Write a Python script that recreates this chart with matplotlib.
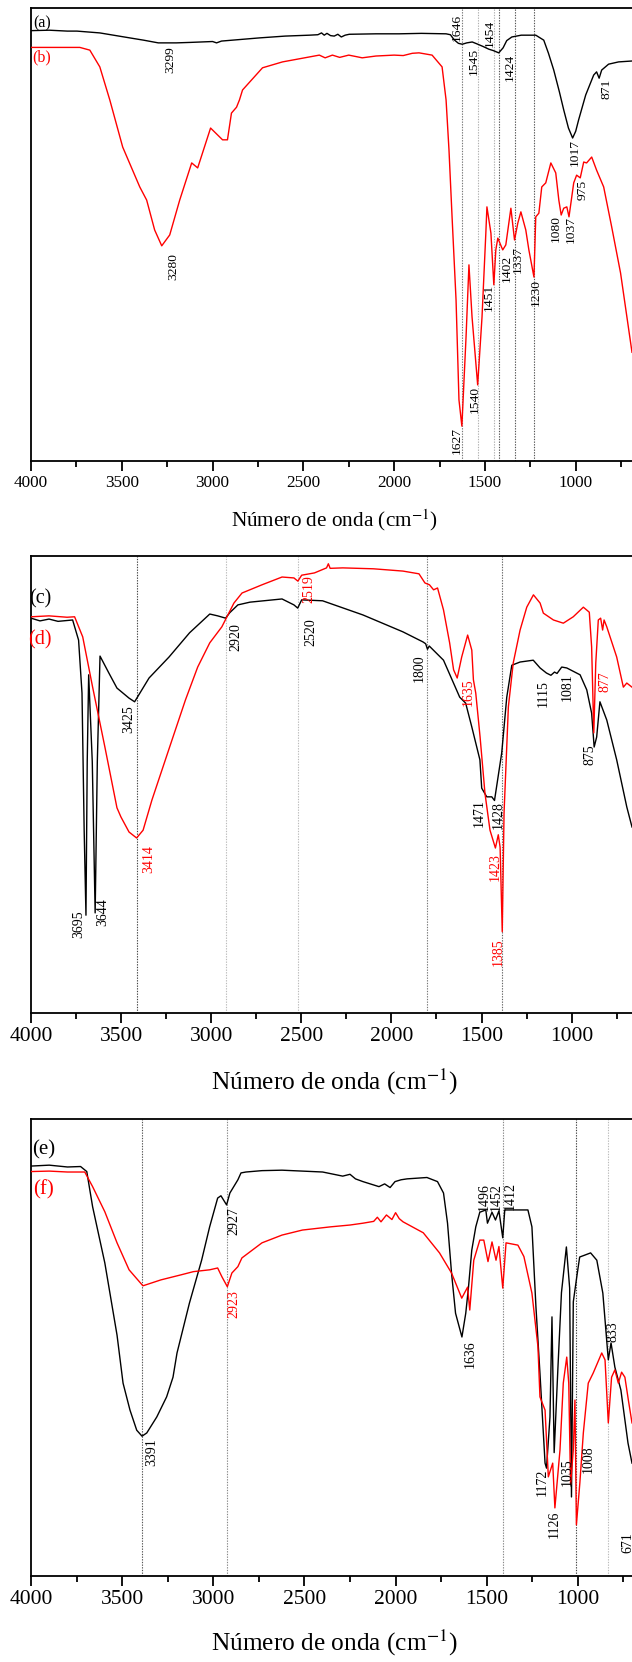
import matplotlib.pyplot as plt
from matplotlib.ticker import MultipleLocator

plt.rcParams['font.family'] = ['Liberation Serif', 'DejaVu Serif']
plt.rcParams['mathtext.fontset'] = 'stix'

RED = '#ff0000'
BLK = '#000000'

# ---------- spectra (a) / (b) ----------
wn_a = [4000, 3900, 3800, 3747, 3621, 3456, 3380, 3299, 3200, 3126, 3000, 2978, 2951, 2742, 2600,
        2467, 2420, 2400, 2385, 2370, 2350, 2330, 2310, 2291, 2270, 2247, 2100, 1973, 1850, 1714,
        1690, 1670, 1646, 1625, 1600, 1570, 1545, 1510, 1478, 1454, 1424, 1400, 1380, 1352, 1300,
        1220, 1176, 1150, 1121, 1090, 1066, 1040, 1017, 1000, 984, 945, 901, 885, 871, 857,
        819, 764, 690]
t_a = [95.0, 95.1, 94.9, 94.9, 94.5, 93.4, 92.9, 92.3, 92.3, 92.4, 92.6, 92.3, 92.7, 93.4, 93.8,
       94.0, 94.1, 94.5, 94.0, 94.4, 93.9, 93.8, 94.2, 93.6, 94.0, 94.2, 94.3, 94.3, 94.4, 94.3,
       94.1, 93.0, 92.2, 92.0, 92.3, 92.5, 92.1, 91.5, 90.9, 90.6, 90.1, 91.2, 92.8, 93.6, 94.0,
       94.0, 92.9, 90.0, 86.3, 81.5, 77.5, 73.5, 71.3, 72.8, 75.3, 80.8, 85.2, 85.9, 84.5, 86.3,
       87.6, 88.1, 88.3]

wn_b = [4000, 3731, 3676, 3621, 3566, 3495, 3401, 3363, 3319, 3280, 3236, 3181, 3115, 3082, 3011,
        2945, 2918, 2896, 2868, 2852, 2835, 2725, 2615, 2412, 2380, 2340, 2300, 2250, 2200, 2176,
        2100, 2000, 1950, 1900, 1863, 1791, 1736, 1714, 1698, 1681, 1659, 1643, 1627, 1604, 1588,
        1571, 1540, 1516, 1495, 1489, 1467, 1451, 1440, 1429, 1402, 1385, 1357, 1337, 1319, 1302,
        1275, 1258, 1230, 1220, 1203, 1187, 1165, 1137, 1110, 1093, 1080, 1066, 1049, 1037, 1011,
        995, 975, 956, 940, 912, 885, 846, 802, 753, 690]
t_b = [91.3, 91.3, 90.7, 87.0, 79.7, 69.3, 60.5, 57.6, 51.0, 47.5, 49.9, 57.6, 65.8, 64.7, 73.5,
       70.9, 70.9, 76.8, 78.1, 79.7, 81.9, 86.8, 88.1, 89.6, 89.0, 89.6, 89.1, 89.6, 89.2, 89.0,
       89.4, 89.6, 89.5, 90.0, 90.1, 89.6, 87.0, 79.7, 68.7, 53.9, 35.5, 13.5, 7.7, 27.4, 43.3,
       31.8, 16.8, 31.8, 50.3, 56.1, 50.3, 38.9, 46.6, 49.2, 46.6, 47.7, 55.8, 48.8, 52.5, 55.0,
       51.0, 46.6, 40.6, 53.9, 54.7, 60.5, 61.4, 65.8, 63.6, 57.6, 54.3, 55.8, 56.1, 53.9, 61.4,
       63.1, 62.5, 66.0, 65.8, 67.1, 64.2, 60.5, 51.7, 41.5, 24.0]

# ---------- spectra (c) / (d) ----------
wn_c = [4000, 3950, 3900, 3850, 3769, 3736, 3717, 3705, 3695, 3688, 3680, 3660, 3644, 3632, 3617,
        3568, 3523, 3456, 3425, 3345, 3234, 3120, 3008, 2964, 2920, 2897, 2852, 2785, 2607, 2541,
        2520, 2498, 2382, 2158, 1936, 1825, 1810, 1800, 1790, 1711, 1621, 1588, 1554, 1509, 1499,
        1471, 1443, 1428, 1388, 1360, 1332, 1286, 1213, 1175, 1140, 1115, 1095, 1081, 1055, 1027,
        953, 916, 889, 875, 861, 843, 805, 750, 694, 665]
t_c = [86.4, 85.8, 86.2, 85.7, 86.0, 81.6, 70.0, 40.0, 21.4, 55.0, 74.0, 55.0, 21.9, 55.0, 78.1,
       74.4, 71.1, 68.9, 68.1, 73.3, 77.9, 83.2, 87.3, 86.9, 86.4, 87.6, 89.3, 89.9, 90.6, 89.3,
       88.6, 90.4, 90.2, 87.1, 83.4, 81.2, 80.8, 79.6, 80.3, 77.2, 69.1, 67.8, 62.6, 55.4, 49.2,
       47.3, 47.3, 46.5, 56.9, 69.1, 76.1, 76.8, 77.2, 75.5, 74.4, 73.9, 74.6, 74.3, 75.7, 75.5,
       74.0, 70.7, 65.6, 58.2, 60.4, 68.1, 64.1, 55.4, 45.1, 40.7]

wn_d = [4000, 3900, 3800, 3758, 3713, 3658, 3590, 3523, 3501, 3456, 3414, 3378, 3329, 3279, 3212,
        3143, 3075, 3008, 2941, 2874, 2829, 2718, 2607, 2541, 2519, 2498, 2427, 2360, 2350, 2340,
        2270, 2100, 1936, 1847, 1814, 1789, 1766, 1744, 1711, 1677, 1655, 1635, 1610, 1577, 1554,
        1545, 1532, 1508, 1481, 1453, 1423, 1407, 1397, 1385, 1375, 1351, 1324, 1286, 1249, 1212,
        1175, 1157, 1101, 1046, 991, 935, 902, 889, 877, 866, 852, 839, 828, 820, 805,
        750, 713, 694, 665]
t_d = [86.7, 86.9, 86.6, 86.7, 82.3, 71.3, 58.2, 44.9, 42.9, 39.6, 38.3, 40.0, 46.6, 52.5, 60.4,
       68.5, 75.7, 81.0, 84.5, 89.7, 91.9, 93.7, 95.4, 95.2, 94.5, 95.8, 96.3, 97.4, 98.3, 97.3,
       97.4, 97.2, 96.7, 96.1, 94.1, 93.7, 92.6, 93.0, 88.2, 81.0, 75.1, 73.3, 77.9, 82.7, 79.4,
       72.9, 70.0, 60.4, 48.1, 40.0, 36.1, 39.0, 36.3, 17.8, 43.8, 67.0, 76.6, 83.8, 88.8, 91.5,
       89.7, 87.5, 86.0, 85.3, 86.7, 88.8, 87.7, 80.1, 61.3, 76.6, 86.0, 86.4, 83.8, 86.0, 84.5,
       77.9, 71.3, 72.2, 71.3]

# ---------- spectra (e) / (f) ----------
wn_e = [4000, 3900, 3800, 3728, 3694, 3662, 3595, 3528, 3495, 3457, 3420, 3391, 3365, 3310, 3256,
        3221, 3199, 3131, 3064, 3020, 2976, 2958, 2927, 2909, 2865, 2848, 2821, 2733, 2623, 2400,
        2290, 2250, 2220, 2179, 2091, 2060, 2030, 2003, 1970, 1937, 1828, 1770, 1737, 1715, 1693,
        1671, 1636, 1615, 1600, 1582, 1560, 1538, 1505, 1496, 1471, 1452, 1433, 1412, 1401, 1361,
        1274, 1252, 1230, 1208, 1180, 1172, 1153, 1142, 1130, 1110, 1090, 1063, 1045, 1035, 1025,
        1003, 990, 963, 930, 896, 863, 833, 818, 797, 764, 725, 703]
t_e = [89.7, 89.9, 89.5, 89.6, 88.5, 80.8, 68.5, 52.7, 42.2, 36.3, 31.9, 30.6, 31.3, 34.8, 39.2,
       43.5, 48.8, 59.7, 69.1, 76.4, 82.7, 83.2, 81.2, 83.8, 86.7, 88.2, 88.4, 88.7, 88.8, 88.4,
       87.5, 87.9, 86.9, 86.3, 85.2, 85.8, 85.0, 86.3, 86.7, 86.9, 87.2, 86.3, 83.8, 77.2, 66.3,
       57.5, 52.3, 57.5, 63.2, 71.3, 76.4, 79.6, 80.1, 77.2, 79.6, 77.9, 79.9, 74.0, 80.1, 80.1,
       80.1, 76.4, 58.9, 44.4, 24.7, 23.6, 34.8, 56.7, 27.0, 45.0, 62.0, 72.0, 63.0, 17.3, 60.0,
       66.3, 69.8, 70.2, 70.7, 69.1, 61.9, 47.3, 51.0, 45.7, 40.7, 29.1, 24.7]

wn_f = [4000, 3900, 3800, 3705, 3662, 3595, 3528, 3462, 3386, 3287, 3177, 3109, 3020, 2976, 2953,
        2923, 2898, 2865, 2843, 2733, 2623, 2511, 2357, 2250, 2179, 2120, 2100, 2080, 2050, 2020,
        2000, 1980, 1959, 1848, 1759, 1693, 1637, 1605, 1593, 1571, 1538, 1516, 1493, 1471, 1449,
        1433, 1412, 1394, 1329, 1296, 1252, 1219, 1208, 1180, 1162, 1138, 1126, 1098, 1080, 1061,
        1050, 1040, 1025, 1016, 1008, 989, 970, 943, 916, 869, 851, 833, 815, 797, 778,
        760, 742, 723, 703]
t_f = [88.5, 88.6, 88.4, 88.4, 85.2, 79.7, 72.9, 67.0, 63.5, 64.8, 65.9, 66.6, 67.0, 67.4, 65.5,
       63.3, 66.3, 67.7, 69.6, 72.9, 74.6, 75.7, 76.4, 76.8, 77.2, 77.6, 78.5, 77.5, 79.0, 78.0,
       79.5, 78.2, 77.5, 75.1, 70.7, 66.3, 60.8, 63.2, 58.2, 69.1, 73.5, 73.5, 68.8, 73.1, 69.1,
       72.1, 63.0, 72.9, 72.4, 69.9, 61.9, 50.2, 39.2, 36.3, 21.7, 24.7, 14.9, 27.6, 42.2, 47.9,
       42.2, 20.0, 27.6, 38.5, 11.2, 20.4, 31.3, 42.2, 44.4, 48.8, 47.3, 33.5, 43.5, 45.1, 42.2,
       44.6, 43.5, 38.5, 33.5]

# band positions marked with dotted guide lines
guides_1 = [1627, 1540, 1451, 1424, 1337, 1230]
guides_2 = [3414, 2920, 2520, 1800, 1385]
guides_3 = [3391, 2927, 1412, 1008, 833]
guide_gray_1 = ['#777777', '#b0b0b0', '#b0b0b0', '#555555', '#555555', '#555555']
guide_gray_2 = ['#444444', '#bbbbbb', '#bbbbbb', '#777777', '#666666']
guide_gray_3 = ['#555555', '#888888', '#888888', '#444444', '#bbbbbb']

# peak labels: (text, x, y, colour)
peaks_1 = [("3299", 3235, 88.5, BLK), ("1646", 1654, 95.8, BLK), ("1545", 1561, 88.1, BLK),
           ("1454", 1472, 94.5, BLK), ("1424", 1362, 87.0, BLK), ("1017", 1004, 68.2, BLK),
           ("871", 828, 82.1, BLK), ("3280", 3218, 43.0, BLK), ("1627", 1654, 4.6, BLK),
           ("1540", 1555, 13.5, BLK), ("1451", 1478, 36.2, BLK), ("1402", 1379, 42.6, BLK),
           ("1337", 1318, 44.4, BLK), ("1230", 1219, 37.1, BLK), ("1080", 1109, 51.4, BLK),
           ("1037", 1026, 51.0, BLK), ("975", 960, 59.8, BLK)]
peaks_2 = [("3425", 3456, 64.3, BLK), ("2920", 2862, 82.3, BLK), ("2520", 2449, 83.4, BLK),
           ("2519", 2460, 92.8, RED), ("1800", 1847, 75.5, BLK), ("1635", 1575, 70.2, RED),
           ("1115", 1159, 70.0, BLK), ("1081", 1026, 71.3, BLK), ("877", 815, 72.4, RED),
           ("875", 898, 56.5, BLK), ("1471", 1514, 43.8, BLK), ("1428", 1408, 43.3, BLK),
           ("1423", 1425, 31.9, RED), ("1385", 1408, 13.3, RED), ("3414", 3345, 33.7, RED),
           ("3695", 3736, 19.5, BLK), ("3644", 3602, 22.1, BLK)]
peaks_3 = [("2927", 2886, 77.7, BLK), ("2923", 2886, 59.5, RED), ("1636", 1592, 48.6, BLK),
           ("1496", 1515, 82.9, BLK), ("1452", 1449, 82.9, BLK), ("1412", 1372, 83.2, BLK),
           ("833", 807, 53.4, BLK), ("3391", 3338, 27.1, BLK), ("1172", 1193, 20.6, BLK),
           ("1126", 1131, 11.4, BLK), ("1035", 1061, 22.8, BLK), ("1008", 945, 25.6, BLK),
           ("671", 728, 7.2, BLK)]

XLABEL = 'Número de onda (cm$^{-1}$)'

fig = plt.figure(figsize=(6.32, 16.62), dpi=100)
W, H = 632, 1662


def panel(top, bottom, right_wn, tick_fs, xlab_fs, xlab_gap):
    ax = fig.add_axes([31 / W, 1 - bottom / H, (W - 31) / W, (bottom - top) / H])
    ax.set_xlim(4000, right_wn)
    ax.set_ylim(0, 100)
    ax.set_yticks([])
    ax.spines['right'].set_visible(False)
    for s in ('left', 'top', 'bottom'):
        ax.spines[s].set_linewidth(1.3)
    ax.xaxis.set_major_locator(MultipleLocator(500))
    ax.xaxis.set_minor_locator(MultipleLocator(250))
    ax.tick_params(axis='x', which='major', direction='out', length=7, width=1.3,
                   labelsize=tick_fs, pad=3)
    ax.tick_params(axis='x', which='minor', direction='out', length=4.5, width=1.3)
    ax.set_xlabel(XLABEL, fontsize=xlab_fs)
    ax.xaxis.set_label_coords(0.505, -xlab_gap / (bottom - top))
    ax.xaxis.label.set_verticalalignment('center')
    return ax


def guides(ax, xs, grays):
    for x, c in zip(xs, grays):
        ax.axvline(x, color=c, lw=0.8, ls=(0, (1.2, 1.2)), zorder=1)


def peak_labels(ax, items, fs):
    for txt, x, y, c in items:
        ax.text(x, y, txt, rotation=90, ha='center', va='center', fontsize=fs, color=c)


# (a)/(b)
ax1 = panel(8, 461, 690, 12.3, 15.3, 59)
guides(ax1, guides_1, guide_gray_1)
ax1.plot(wn_a, t_a, color=BLK, lw=1.0, zorder=3)
ax1.plot(wn_b, t_b, color=RED, lw=1.0, zorder=3)
ax1.text(3939, 96.7, '(a)', fontsize=11.5, ha='center', va='center', color=BLK)
ax1.text(3939, 89.0, '(b)', fontsize=11.5, ha='center', va='center', color=RED)
peak_labels(ax1, peaks_1, 9.7)

# (c)/(d)
ax2 = panel(556, 1013, 665, 15.5, 18.3, 69)
guides(ax2, guides_2, guide_gray_2)
ax2.plot(wn_c, t_c, color=BLK, lw=1.0, zorder=3)
ax2.plot(wn_d, t_d, color=RED, lw=1.0, zorder=3)
ax2.text(3950, 90.6, '(c)', fontsize=14.5, ha='center', va='center', color=BLK)
ax2.text(3950, 81.6, '(d)', fontsize=14.5, ha='center', va='center', color=RED)
peak_labels(ax2, peaks_2, 10)

# (e)/(f)
ax3 = panel(1119, 1576, 703, 15.5, 18.3, 67)
guides(ax3, guides_3, guide_gray_3)
ax3.plot(wn_e, t_e, color=BLK, lw=1.0, zorder=3)
ax3.plot(wn_f, t_f, color=RED, lw=1.0, zorder=3)
ax3.text(3929, 93.2, '(e)', fontsize=15, ha='center', va='center', color=BLK)
ax3.text(3929, 84.5, '(f)', fontsize=15, ha='center', va='center', color=RED)
peak_labels(ax3, peaks_3, 10)

fig.savefig('out.png', dpi=100)
